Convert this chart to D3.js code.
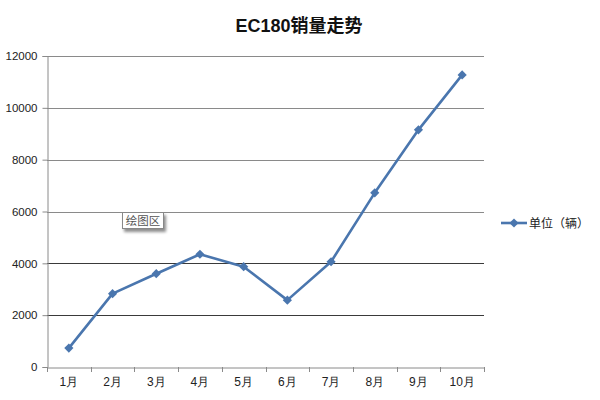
<!DOCTYPE html>
<html><head><meta charset="utf-8">
<script src="https://cdn.jsdelivr.net/npm/d3@7"></script>
<style>body{margin:0;background:#fff;}svg{display:block;font-family:"Liberation Sans","Noto Sans CJK SC",sans-serif;}</style>
</head><body><svg id="c" width="600" height="400"></svg>
<script>
const months = ["1月","2月","3月","4月","5月","6月","7月","8月","9月","10月"];
const sales = [730, 2830, 3600, 4350, 3870, 2580, 4060, 6720, 9150, 11270];
const yTicks = [0, 2000, 4000, 6000, 8000, 10000, 12000];
const seriesName = "单位（辆）";
const chartTitle = "EC180销量走势";

const svg = d3.select("#c");
const pLeft = 47, pRight = 484, pTop = 56, pBottom = 367;
const x = d3.scaleBand().domain(months).range([pLeft, pRight]).paddingInner(0).paddingOuter(0);
const y = d3.scaleLinear().domain([0, 12000]).range([pBottom, pTop]);
const color = "#4a76ae";

const defs = svg.append("defs");
const f = defs.append("filter").attr("id", "sh").attr("x", "-20%").attr("y", "-20%").attr("width", "150%").attr("height", "170%");
f.append("feGaussianBlur").attr("in", "SourceAlpha").attr("stdDeviation", 1.5);
f.append("feOffset").attr("dx", 2).attr("dy", 3).attr("result", "b");
f.append("feComponentTransfer").append("feFuncA").attr("type", "linear").attr("slope", 0.45);
const m = f.append("feMerge"); m.append("feMergeNode"); m.append("feMergeNode").attr("in", "SourceGraphic");

// gridlines
svg.append("g").selectAll("line").data(yTicks.filter(d => d > 0)).join("line")
  .attr("x1", pLeft).attr("x2", pRight)
  .attr("y1", d => Math.round(y(d)) + 0.5).attr("y2", d => Math.round(y(d)) + 0.5)
  .attr("stroke", d => d <= 4000 ? "#3a3a3a" : "#8a8a8a").attr("stroke-width", 1);

// y axis
const ya = svg.append("g").attr("transform", `translate(${pLeft + 0.5},0)`)
  .call(d3.axisLeft(y).tickValues(yTicks).tickSize(5).tickPadding(5).tickFormat(d3.format("d")));
ya.select(".domain").attr("stroke", "#8a8a8a");
ya.selectAll(".tick line").attr("stroke", "#8a8a8a");
ya.selectAll("text").attr("font-size", 11.5).attr("fill", "#222");

// x axis
const xa = svg.append("g").attr("transform", `translate(0,${Math.round(pBottom) + 0.5})`)
  .call(d3.axisBottom(x).tickSize(0).tickPadding(10));
xa.select(".domain").attr("stroke", "#8a8a8a");
xa.selectAll("text").attr("font-size", 12).attr("fill", "#222");
// x tick marks at band boundaries
svg.append("g").selectAll("line").data(months.concat(["end"])).join("line")
  .attr("x1", (d, i) => Math.round(pLeft + i * x.bandwidth()) + 0.5)
  .attr("x2", (d, i) => Math.round(pLeft + i * x.bandwidth()) + 0.5)
  .attr("y1", pBottom).attr("y2", pBottom + 5).attr("stroke", "#8a8a8a");

// line
const cx = d => x(d) + x.bandwidth() / 2;
svg.append("path").datum(sales)
  .attr("d", d3.line().x((d, i) => cx(months[i])).y(d => y(d)))
  .attr("fill", "none").attr("stroke", color).attr("stroke-width", 2.6).attr("stroke-linejoin", "round");

const diamond = d3.symbol().type(d3.symbolSquare).size(42);
svg.append("g").selectAll("path").data(sales).join("path")
  .attr("d", diamond)
  .attr("transform", (d, i) => `translate(${cx(months[i])},${y(d)}) rotate(45)`)
  .attr("fill", color);

// title
svg.append("text").attr("x", 299).attr("y", 32).attr("text-anchor", "middle")
  .attr("font-size", 18).attr("font-weight", "bold").attr("fill", "#111").text(chartTitle);

// legend
const ly = 223;
svg.append("line").attr("x1", 501).attr("x2", 527).attr("y1", ly).attr("y2", ly)
  .attr("stroke", color).attr("stroke-width", 2.6);
svg.append("path").attr("d", diamond).attr("transform", `translate(514,${ly}) rotate(45)`).attr("fill", color);
svg.append("text").attr("x", 529).attr("y", ly + 4.5).attr("font-size", 12).attr("fill", "#222").text(seriesName);

// plot-area tooltip
const tip = svg.append("g").attr("transform", "translate(122,212)");
tip.append("rect").attr("x", 0.5).attr("y", 0.5).attr("width", 41).attr("height", 16).attr("fill", "#fff").attr("stroke", "#888").attr("filter", "url(#sh)");
tip.append("text").attr("x", 21).attr("y", 12.5).attr("text-anchor", "middle").attr("font-size", 11.5).attr("fill", "#555").text("绘图区");
</script></body></html>
